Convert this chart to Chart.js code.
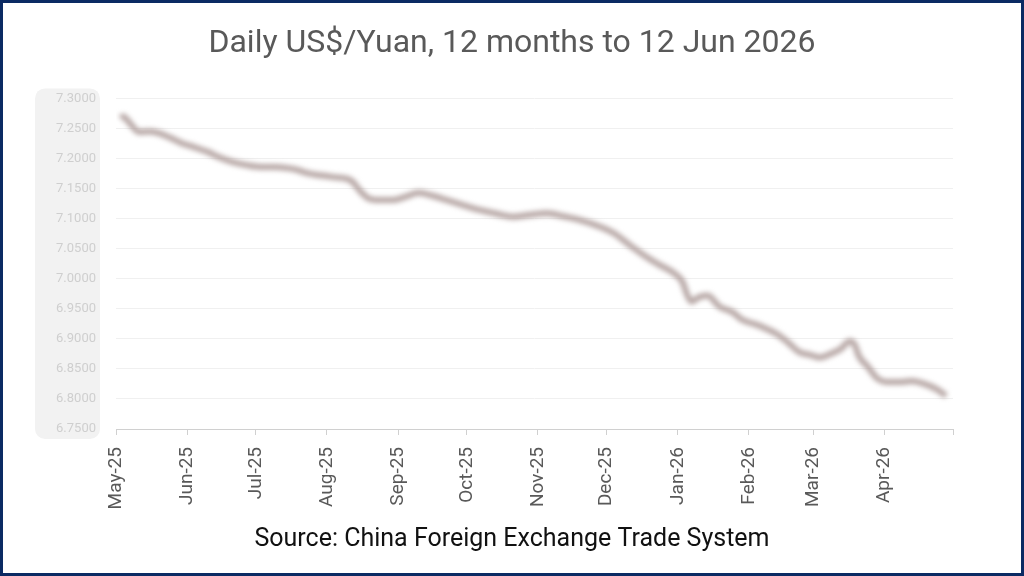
<!DOCTYPE html>
<html>
<head>
<meta charset="utf-8">
<script src="https://cdn.jsdelivr.net/npm/chart.js@4/dist/chart.umd.min.js"></script>
<style>
  html, body { margin: 0; padding: 0; background: #fff; }
  #frame { width: 1024px; height: 576px; box-sizing: border-box; border: 3px solid #0b2a63; background: #fff; }
  #chart { display: block; }
</style>
</head>
<body>
<div id="frame"><canvas id="chart" width="1018" height="570"></canvas></div>
<script>
// daily fixing
const dates = [
  "2025-05-03","2025-05-04","2025-05-07","2025-05-11","2025-05-16","2025-05-20","2025-05-25","2025-05-30",
  "2025-06-04","2025-06-10","2025-06-15","2025-06-21","2025-06-27",
  "2025-07-03","2025-07-09","2025-07-15","2025-07-19","2025-07-23","2025-07-29",
  "2025-08-04","2025-08-09","2025-08-12","2025-08-15","2025-08-19","2025-08-24","2025-08-30",
  "2025-09-04","2025-09-10","2025-09-16","2025-09-22","2025-09-29",
  "2025-10-07","2025-10-14","2025-10-21","2025-10-28",
  "2025-11-05","2025-11-12","2025-11-19","2025-11-27",
  "2025-12-04","2025-12-11","2025-12-18","2025-12-24","2025-12-30",
  "2026-01-03","2026-01-05","2026-01-07","2026-01-10","2026-01-14","2026-01-19","2026-01-25","2026-01-29",
  "2026-02-04","2026-02-09","2026-02-14","2026-02-18","2026-02-23","2026-02-28",
  "2026-03-04","2026-03-08","2026-03-13","2026-03-17","2026-03-19","2026-03-21","2026-03-25","2026-03-29",
  "2026-04-03","2026-04-08","2026-04-13","2026-04-20","2026-04-24","2026-04-28"
];
const rates = [
  7.267, 7.270, 7.259, 7.244, 7.245, 7.242, 7.234, 7.225,
  7.219, 7.211, 7.202, 7.194, 7.189,
  7.186, 7.186, 7.184, 7.181, 7.176, 7.172,
  7.169, 7.167, 7.162, 7.148, 7.134, 7.131, 7.131,
  7.136, 7.143, 7.138, 7.131, 7.123,
  7.114, 7.108, 7.103, 7.106,
  7.109, 7.104, 7.098, 7.088,
  7.076, 7.056, 7.037, 7.023, 7.010,
  6.995, 6.974, 6.962, 6.969, 6.972, 6.954, 6.944, 6.932,
  6.924, 6.916, 6.906, 6.894, 6.878, 6.873,
  6.869, 6.874, 6.883, 6.896, 6.891, 6.871, 6.853, 6.834,
  6.828, 6.828, 6.830, 6.823, 6.816, 6.805
];
const monthStarts = [
  "2025-05-01","2025-06-01","2025-07-01","2025-08-01","2025-09-01","2025-10-01","2025-11-01",
  "2025-12-01","2026-01-01","2026-02-01","2026-03-01","2026-04-01","2026-05-01"
];
const monthLabels = ["May-25","Jun-25","Jul-25","Aug-25","Sep-25","Oct-25","Nov-25",
  "Dec-25","Jan-26","Feb-26","Mar-26","Apr-26",""];
const yMin = 6.75, yMax = 7.30, yStep = 0.05;

const DAY = 86400000;
const t0 = Date.parse(monthStarts[0]);
const dayOf = d => (Date.parse(d) - t0) / DAY;
const tickDays = monthStarts.map(dayOf);

const labelBox = {
  id: "labelBox",
  beforeDraw(chart) {
    const { ctx, chartArea } = chart;
    const x = chartArea.left - 81, y = chartArea.top - 10;
    const w = 65, h = chartArea.bottom - chartArea.top + 20;
    ctx.save();
    ctx.fillStyle = "#f2f2f2";
    ctx.beginPath();
    ctx.roundRect(x, y, w, h, 10);
    ctx.fill();
    ctx.restore();
  }
};

const softLine = {
  id: "softLine",
  beforeDatasetsDraw(chart) { chart.ctx.save(); chart.ctx.filter = "blur(2.5px)"; },
  afterDatasetsDraw(chart) { chart.ctx.restore(); }
};

new Chart(document.getElementById("chart"), {
  type: "line",
  data: {
    datasets: [{
      data: dates.map((d, i) => ({ x: dayOf(d), y: rates[i] })),
      borderColor: "rgba(165,145,142,0.8)",
      borderWidth: 6,
      pointRadius: 0,
      tension: 0.4,
      cubicInterpolationMode: "monotone"
    }]
  },
  plugins: [labelBox, softLine],
  options: {
    responsive: false,
    animation: false,
    layout: { padding: { top: 22, right: 0, bottom: 18, left: 0 } },
    plugins: {
      legend: { display: false },
      tooltip: { enabled: false },
      title: {
        display: true,
        text: "Daily US$/Yuan, 12 months to 12 Jun 2026",
        color: "#595959",
        font: { family: "Roboto", size: 32, weight: "normal" },
        padding: { top: 0, bottom: 35 }
      },
      subtitle: {
        display: true,
        position: "bottom",
        text: "Source: China Foreign Exchange Trade System",
        color: "#111111",
        font: { family: "Roboto", size: 25, weight: "normal" },
        padding: 0
      }
    },
    scales: {
      x: {
        type: "linear",
        min: tickDays[0],
        max: tickDays[tickDays.length - 1],
        afterBuildTicks: s => { s.ticks = tickDays.map(v => ({ value: v })); },
        afterFit: s => { s.height = 96; },
        ticks: {
          autoSkip: false,
          minRotation: 90,
          maxRotation: 90,
          padding: 12,
          color: "#595959",
          font: { family: "Roboto", size: 19 },
          callback: (v, i) => monthLabels[i]
        },
        grid: { drawOnChartArea: false, drawTicks: true, tickLength: 6, color: "#d0d0d0" },
        border: { color: "#d0d0d0", width: 1 }
      },
      y: {
        min: yMin,
        max: yMax,
        afterFit: s => { s.width = 113; },
        ticks: {
          stepSize: yStep,
          padding: 20,
          color: "#cfcfcf",
          font: { family: "Roboto", size: 13 },
          callback: v => v.toFixed(4)
        },
        grid: { color: "#f0f0f0", drawTicks: false },
        border: { display: false }
      },
      // empty right-hand strip so the plot ends where the reference does
      yRight: {
        position: "right",
        min: yMin,
        max: yMax,
        afterFit: s => { s.width = 68; },
        ticks: { display: false },
        grid: { display: false },
        border: { display: false }
      }
    }
  }
});
</script>
</body>
</html>
